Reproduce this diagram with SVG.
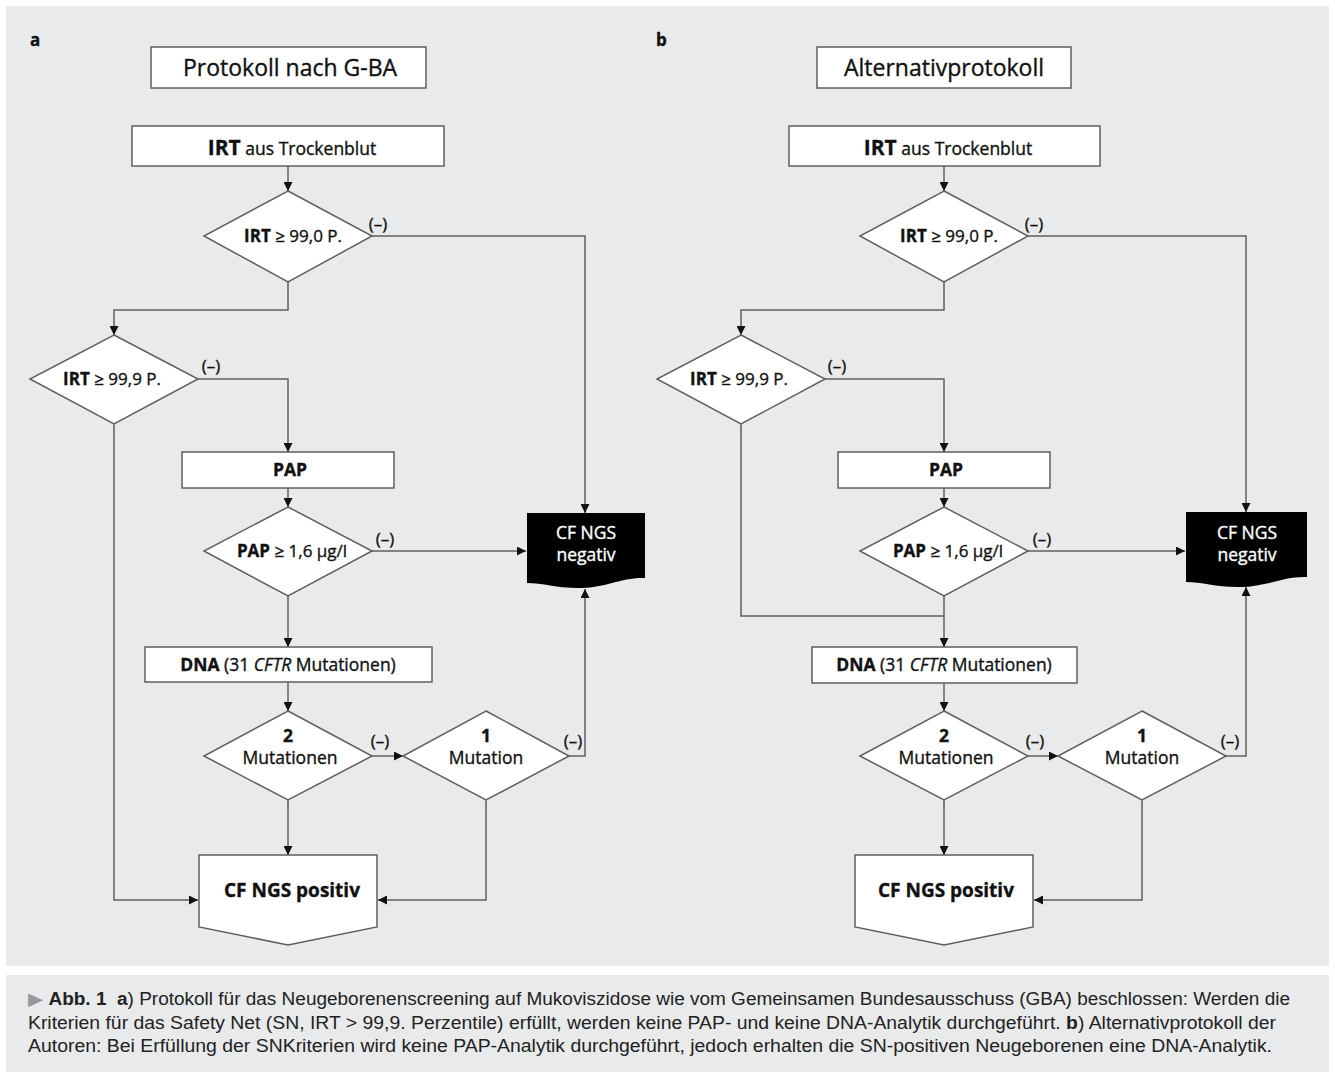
<svg xmlns="http://www.w3.org/2000/svg" width="1335" height="1078" viewBox="0 0 1335 1078">
<defs>
<style>
.bg{fill:#e9eaeb}
.nd{fill:#fff;stroke:#5f5f5f;stroke-width:1.5}
.neg{fill:#000}
.c{fill:none;stroke:#5f5f5f;stroke-width:1.5}
text{font-family:"Open Sans","Noto Sans",sans-serif;fill:#111;stroke:#111;stroke-width:0.35}
.t{font-size:23px;text-anchor:middle}
.m{font-size:17px;text-anchor:middle}
.m16{font-size:17.5px;text-anchor:middle}
.b{font-weight:bold}
.w{fill:#fff;stroke:#fff;font-size:17.5px;text-anchor:middle}
.lbl{font-size:17px;font-weight:bold}
.cap{font-family:"Liberation Sans",Arial,sans-serif;font-size:17.5px;fill:#222;stroke:none}
</style>
<marker id="ah" viewBox="0 0 10 10" refX="10" refY="5" markerWidth="10" markerHeight="9" markerUnits="userSpaceOnUse" orient="auto">
<path d="M0,0 L10,5 L0,10 Z" fill="#111"/>
</marker>
</defs>
<rect width="1335" height="1078" fill="#fff"/>
<rect class="bg" x="6" y="6" width="1323" height="960"/>
<rect class="bg" x="6" y="975" width="1323" height="97"/>

<g id="connectors">
<path class="c" d="M288,166 V191" marker-end="url(#ah)"/>
<path class="c" d="M372,236 H585 V513" marker-end="url(#ah)"/>
<path class="c" d="M288,282 V310 H114 V335" marker-end="url(#ah)"/>
<path class="c" d="M198,379 H288 V452" marker-end="url(#ah)"/>
<path class="c" d="M288,488 V507" marker-end="url(#ah)"/>
<path class="c" d="M372,551 H526" marker-end="url(#ah)"/>
<path class="c" d="M288,596 V647" marker-end="url(#ah)"/>
<path class="c" d="M288,682 V711" marker-end="url(#ah)"/>
<path class="c" d="M372,756 H403" marker-end="url(#ah)"/>
<path class="c" d="M569,756 H585 V589" marker-end="url(#ah)"/>
<path class="c" d="M288,800 V855" marker-end="url(#ah)"/>
<path class="c" d="M486,800 V900 H378" marker-end="url(#ah)"/>
<path class="c" d="M114,424 V900 H198" marker-end="url(#ah)"/>

<path class="c" d="M944,166 V191" marker-end="url(#ah)"/>
<path class="c" d="M1028,236 H1246 V512" marker-end="url(#ah)"/>
<path class="c" d="M944,282 V310 H741 V335" marker-end="url(#ah)"/>
<path class="c" d="M825,379 H944 V452" marker-end="url(#ah)"/>
<path class="c" d="M944,488 V507" marker-end="url(#ah)"/>
<path class="c" d="M1028,551 H1185" marker-end="url(#ah)"/>
<path class="c" d="M741,424 V616 H944"/>
<path class="c" d="M944,596 V647" marker-end="url(#ah)"/>
<path class="c" d="M944,683 V711" marker-end="url(#ah)"/>
<path class="c" d="M1028,756 H1058" marker-end="url(#ah)"/>
<path class="c" d="M1226,756 H1246 V587" marker-end="url(#ah)"/>
<path class="c" d="M944,800 V855" marker-end="url(#ah)"/>
<path class="c" d="M1142,800 V900 H1034" marker-end="url(#ah)"/>
</g>

<!-- Panel a -->
<text class="lbl" x="30" y="46">a</text>
<g id="a-title"><rect class="nd" x="151" y="47" width="275" height="41"/><text class="t" x="290" y="76">Protokoll nach G-BA</text></g>
<g id="a-irt"><rect class="nd" x="132" y="126" width="312" height="40"/><text class="m16" x="292" y="155"><tspan class="b" font-size="21">IRT</tspan> aus Trockenblut</text></g>
<g id="a-d1"><polygon class="nd" points="288,191 372,236 288,282 204,236"/><text class="m" x="293" y="242"><tspan class="b">IRT</tspan> ≥ 99,0 P.</text><text class="m" x="378" y="230">(–)</text></g>
<g id="a-d2"><polygon class="nd" points="114,335 198,379 114,424 30,379"/><text class="m" x="112" y="385"><tspan class="b">IRT</tspan> ≥ 99,9 P.</text><text class="m" x="211" y="372">(–)</text></g>
<g id="a-pap"><rect class="nd" x="182" y="452" width="212" height="36"/><text class="m16 b" x="290" y="476">PAP</text></g>
<g id="a-d3"><polygon class="nd" points="288,507 372,551 288,596 204,551"/><text class="m" x="292" y="557"><tspan class="b">PAP</tspan> ≥ 1,6 µg/l</text><text class="m" x="385" y="545">(–)</text></g>
<g id="a-neg"><path class="neg" d="M527,513 H645 V578 C622,577 606,588 578,588 C556,588 543,583 527,583 Z"/><text class="w" x="586" y="539">CF NGS</text><text class="w" x="586" y="561">negativ</text></g>
<g id="a-dna"><rect class="nd" x="145" y="647" width="287" height="35"/><text class="m16" x="288" y="671"><tspan class="b">DNA</tspan> (31 <tspan font-style="italic">CFTR</tspan> Mutationen)</text></g>
<g id="a-d4"><polygon class="nd" points="288,711 372,756 288,800 204,756"/><text class="m16 b" x="288" y="742">2</text><text class="m16" x="290" y="764">Mutationen</text><text class="m" x="380" y="747">(–)</text></g>
<g id="a-d5"><polygon class="nd" points="486,711 569,756 486,800 403,756"/><text class="m16 b" x="486" y="742">1</text><text class="m16" x="486" y="764">Mutation</text><text class="m" x="573" y="747">(–)</text></g>
<g id="a-pos"><path class="nd" d="M199,855 H377 V927 L288,945 L199,927 Z"/><text class="b" font-size="19" text-anchor="middle" x="292" y="897">CF NGS positiv</text></g>

<!-- Panel b -->
<text class="lbl" x="656" y="46">b</text>
<g id="b-title"><rect class="nd" x="817" y="47" width="254" height="41"/><text class="t" x="944" y="76">Alternativprotokoll</text></g>
<g id="b-irt"><rect class="nd" x="789" y="126" width="311" height="40"/><text class="m16" x="948" y="155"><tspan class="b" font-size="21">IRT</tspan> aus Trockenblut</text></g>
<g id="b-d1"><polygon class="nd" points="944,191 1028,236 944,282 860,236"/><text class="m" x="949" y="242"><tspan class="b">IRT</tspan> ≥ 99,0 P.</text><text class="m" x="1034" y="230">(–)</text></g>
<g id="b-d2"><polygon class="nd" points="741,335 825,379 741,424 657,379"/><text class="m" x="739" y="385"><tspan class="b">IRT</tspan> ≥ 99,9 P.</text><text class="m" x="837" y="372">(–)</text></g>
<g id="b-pap"><rect class="nd" x="838" y="452" width="212" height="36"/><text class="m16 b" x="946" y="476">PAP</text></g>
<g id="b-d3"><polygon class="nd" points="944,507 1028,551 944,596 860,551"/><text class="m" x="948" y="557"><tspan class="b">PAP</tspan> ≥ 1,6 µg/l</text><text class="m" x="1042" y="545">(–)</text></g>
<g id="b-neg"><path class="neg" d="M1186,512 H1307 V577 C1283,576 1267,587 1238,587 C1215,587 1202,582 1186,582 Z"/><text class="w" x="1247" y="539">CF NGS</text><text class="w" x="1247" y="561">negativ</text></g>
<g id="b-dna"><rect class="nd" x="812" y="647" width="265" height="36"/><text class="m16" x="944" y="671"><tspan class="b">DNA</tspan> (31 <tspan font-style="italic">CFTR</tspan> Mutationen)</text></g>
<g id="b-d4"><polygon class="nd" points="944,711 1028,756 944,800 860,756"/><text class="m16 b" x="944" y="742">2</text><text class="m16" x="946" y="764">Mutationen</text><text class="m" x="1035" y="747">(–)</text></g>
<g id="b-d5"><polygon class="nd" points="1142,711 1226,756 1142,800 1058,756"/><text class="m16 b" x="1142" y="742">1</text><text class="m16" x="1142" y="764">Mutation</text><text class="m" x="1230" y="747">(–)</text></g>
<g id="b-pos"><path class="nd" d="M855,855 H1033 V927 L944,945 L855,927 Z"/><text class="b" font-size="19" text-anchor="middle" x="946" y="897">CF NGS positiv</text></g>

<!-- Caption -->
<g id="caption">
<text class="cap" x="28" y="1005" textLength="1262" lengthAdjust="spacingAndGlyphs"><tspan fill="#999">▶</tspan> <tspan font-weight="bold">Abb. 1</tspan>&#160; <tspan font-weight="bold">a</tspan>) Protokoll für das Neugeborenenscreening auf Mukoviszidose wie vom Gemeinsamen Bundesausschuss (GBA) beschlossen: Werden die</text>
<text class="cap" x="28" y="1029" textLength="1248" lengthAdjust="spacingAndGlyphs">Kriterien für das Safety Net (SN, IRT &gt; 99,9. Perzentile) erfüllt, werden keine PAP- und keine DNA-Analytik durchgeführt. <tspan font-weight="bold">b</tspan>) Alternativprotokoll der</text>
<text class="cap" x="28" y="1052" textLength="1244" lengthAdjust="spacingAndGlyphs">Autoren: Bei Erfüllung der SNKriterien wird keine PAP-Analytik durchgeführt, jedoch erhalten die SN-positiven Neugeborenen eine DNA-Analytik.</text>
</g>
</svg>
